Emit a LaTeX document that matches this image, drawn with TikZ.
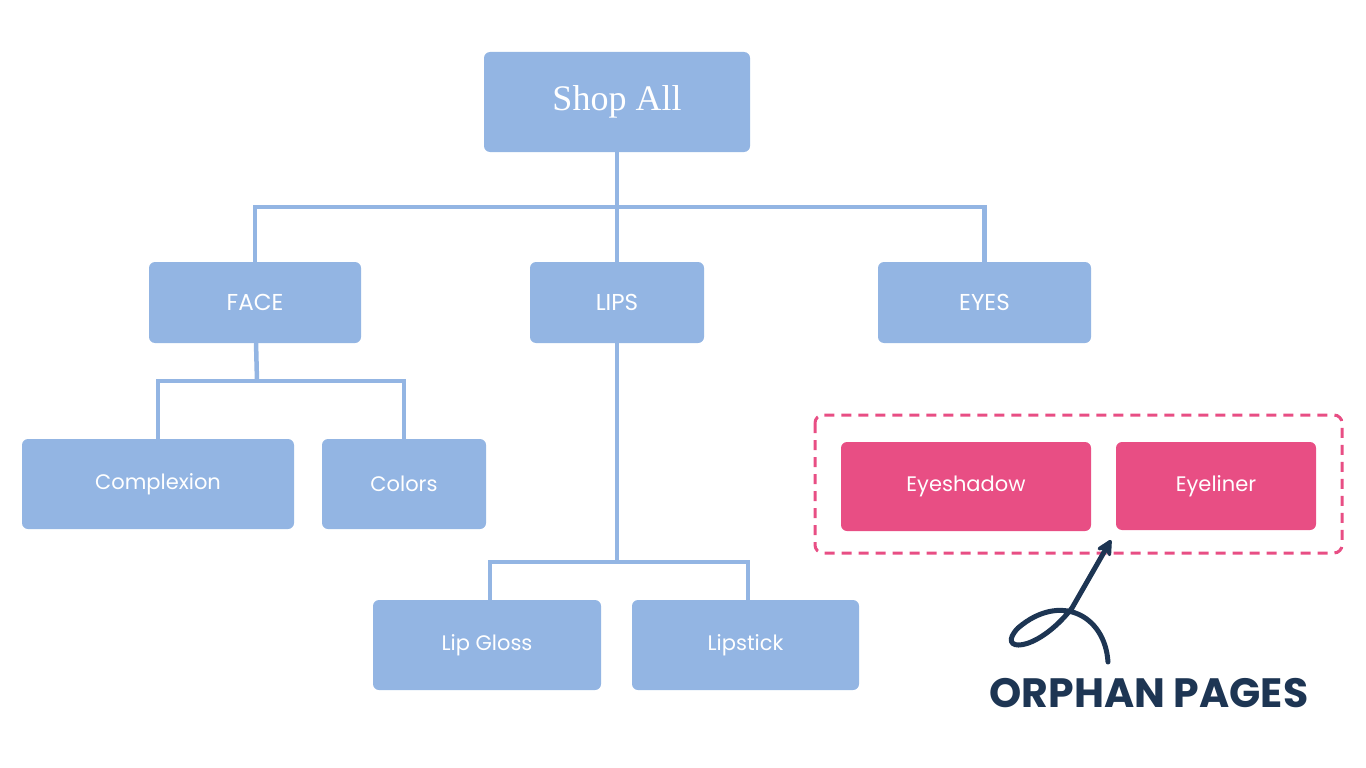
\documentclass[tikz,border=0pt]{standalone}
\usepackage{fontspec}
\setmainfont{Poppins}
\newfontfamily\serifshop{Liberation Serif}
\usetikzlibrary{positioning,arrows.meta}
\definecolor{pageblue}{HTML}{93B5E3}
\definecolor{orphanpink}{HTML}{E84E84}
\definecolor{navy}{HTML}{1D3553}
\tikzset{
  page/.style={fill=pageblue, rounded corners=6pt, text=white, font=\fontsize{23}{26}\selectfont},
  orphan/.style={fill=orphanpink, rounded corners=6pt, text=white, font=\fontsize{21}{24}\selectfont},
  link/.style={draw=pageblue, line width=4.5pt},
}
\begin{document}
\begin{tikzpicture}[x=1pt,y=-1pt]
            \useasboundingbox (0,0) rectangle (1366,768);
            \node[page, minimum width=266, minimum height=100, font=\serifshop\fontsize{36}{40}\selectfont] (shop) at (617,102) {Shop All};
            \node[page, minimum width=212, minimum height=81] (face) at (255,302.5) {FACE};
            \node[page, minimum width=174, minimum height=81] (lips) at (617,302.5) {LIPS};
            \node[page, minimum width=213, minimum height=81] (eyes) at (984.5,302.5) {EYES};
            \node[page, minimum width=272, minimum height=90, font=\fontsize{21}{24}\selectfont] (complexion) at (158,484) {Complexion};
            \node[page, minimum width=164, minimum height=90, font=\fontsize{21}{24}\selectfont] (colors) at (404,484) {Colors};
            \node[page, minimum width=228, minimum height=90, font=\fontsize{21}{24}\selectfont] (gloss) at (487,645) {Lip Gloss};
            \node[page, minimum width=227, minimum height=90, font=\fontsize{21}{24}\selectfont] (lipstick) at (745.5,645) {Lipstick};
            \node[orphan, minimum width=250, minimum height=89] (shadow) at (966,486.5) {Eyeshadow};
            \node[orphan, minimum width=200, minimum height=88] (liner) at (1216,486) {Eyeliner};
            \draw[orphanpink, line width=3pt, dash pattern=on 10pt off 7pt, rounded corners=8pt] (815,415) rectangle (1342,553);

            % tree links
            \coordinate (top) at (617,207);
            \draw[link] (shop) -- (top);
            \draw[link] (top) -- (lips);
            \draw[link] (face.north) |- (top) -| (eyes.north);
            \coordinate (facejoin) at (257,381);
            \draw[link] (face) -- (facejoin);
            \draw[link] (complexion.north) |- (facejoin) -| (colors.north);
            \coordinate (lipsjoin) at (617,562);
            \draw[link] (lips) -- (lipsjoin);
            \draw[link] (gloss.north -| 490,0) |- (lipsjoin) -| (lipstick.north -| 748,0);

            % annotation
            \node[text=navy, font=\fontsize{41}{44}\selectfont\bfseries] (label) at (1149,693) {ORPHAN PAGES};
            \coordinate (tip) at (1111,540);
            \draw[navy, line width=5pt, line cap=round, -{Stealth[length=20pt, width=20pt, round]}]
                (1108,662) .. controls (1105,615) and (1060,592) .. (1018,628)
                .. controls (995,652) and (1035,655) .. (1072,608) -- (tip);
\end{tikzpicture}
\end{document}
